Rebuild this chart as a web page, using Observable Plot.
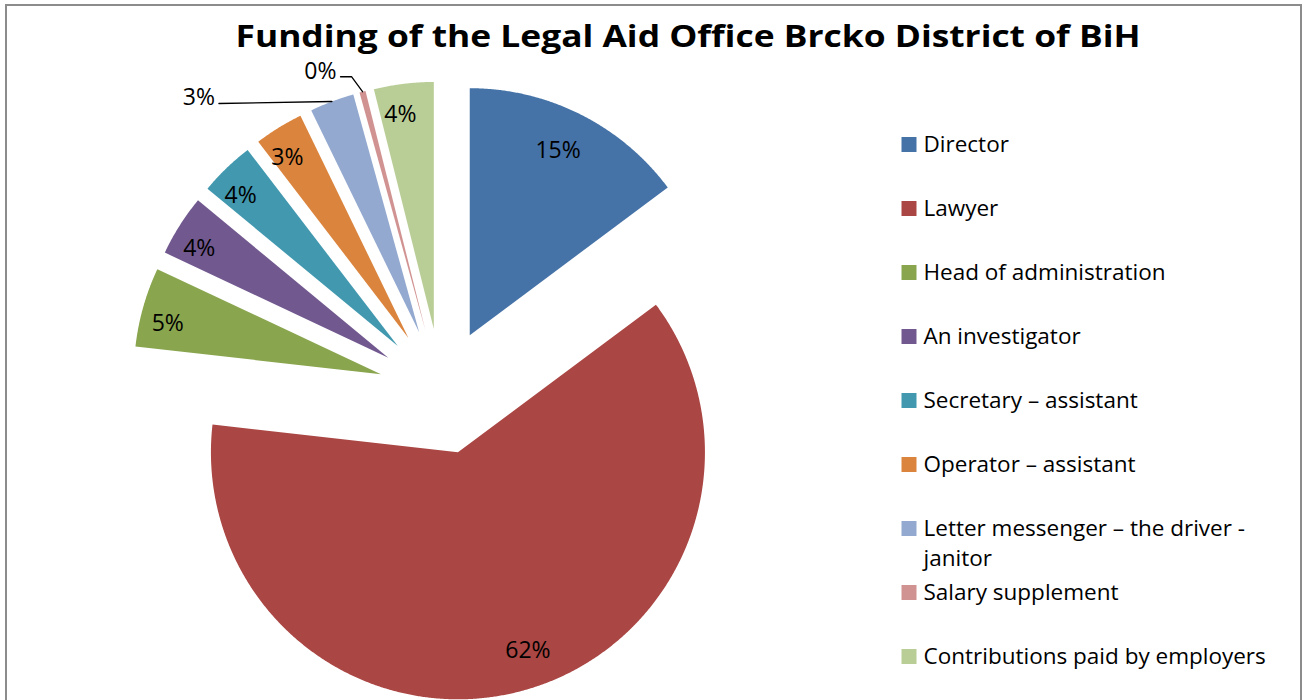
<!DOCTYPE html>
<html>
<head>
<meta charset="utf-8">
<script src="https://cdn.jsdelivr.net/npm/d3@7"></script>
<script src="https://cdn.jsdelivr.net/npm/@observablehq/plot@0.6"></script>
<style>
  html, body { margin: 0; padding: 0; background: #fff; overflow: hidden; }
  #wrap { position: relative; width: 1307px; height: 700px; overflow: hidden; background: #fff; }
  #wrap svg { position: absolute; top: 0; }
</style>
</head>
<body>
<div id="wrap"></div>
<script>
// ---------- data ----------
const title = "Funding of the Legal Aid Office Brcko District of BiH";
const categories = [
  "Director",
  "Lawyer",
  "Head of administration",
  "An investigator",
  "Secretary – assistant",
  "Operator – assistant",
  "Letter messenger – the driver - janitor",
  "Salary supplement",
  "Contributions paid by employers"
];
const shares = [14.8, 62.0, 5.2, 4.0, 3.6, 3.2, 2.9, 0.4, 3.9]; // percent
const colors = ["#4572A7", "#AA4643", "#89A54E", "#71588F", "#4198AF", "#DB843D", "#93A9CF", "#D19392", "#B9CD96"];
// slices whose label sits outside with a leader line
const outsideLabels = ["Letter messenger – the driver - janitor", "Salary supplement"];

// ---------- geometry (style) ----------
const W = 1307, H = 700;
const CX = 441, CY = 391, R = 247;      // pie centre / radius in px
const EXPLODE = 63 / R;                 // explosion in radius units
const FONT = "'Open Sans', 'Noto Sans', sans-serif";
const px = (dx) => dx / R;              // px → data units
const LEG_FS = 22.5, LEG_LH = 30 / 22.5;

const arcs = d3.pie().sort(null).value(d => d)(shares);
const slices = [];
const labels = [];
const leaders = [];
arcs.forEach((a, i) => {
  const name = categories[i];
  const mid = (a.startAngle + a.endAngle) / 2;
  const ox = EXPLODE * Math.sin(mid), oy = EXPLODE * Math.cos(mid);
  slices.push({name, x: ox, y: oy});
  const n = Math.max(2, Math.ceil((a.endAngle - a.startAngle) / 0.005));
  for (let k = 0; k <= n; k++) {
    const t = a.startAngle + (a.endAngle - a.startAngle) * k / n;
    slices.push({name, x: ox + Math.sin(t), y: oy + Math.cos(t)});
  }
  const text = Math.round(shares[i]) + "%";
  if (!outsideLabels.includes(name)) {
    const s = shares[i];
    const rr = s > 10 ? 0.84 : 0.89;
    const la = mid - (s > 50 ? 0.08 : s > 10 ? 0.025 : 0.03);
    labels.push({name, text, x: ox + rr * Math.sin(la), y: oy + rr * Math.cos(la), anchor: "middle"});
  } else {
    const ex = ox + Math.sin(mid), ey = oy + Math.cos(mid);
    const pts = name === "Salary supplement" ? [[0, 0], [-11, -15], [-22, -15]] : [[0, 0], [-113, 2]];
    pts.forEach(([dx, dy]) => leaders.push({name, x: ex + px(dx), y: ey - px(dy)}));
    const [lx, ly] = pts[pts.length - 1];
    const off = name === "Salary supplement" ? [-4, -5] : [-4, -6];
    labels.push({name, text, x: ex + px(lx + off[0]), y: ey - px(ly + off[1]), anchor: "end"});
  }
});

const color = {domain: categories, range: colors};

const pie = Plot.plot({
  width: W, height: H,
  margin: 0,
  x: {domain: [-CX / R, (W - CX) / R], axis: null},
  y: {domain: [(CY - H) / R, CY / R], axis: null},
  color,
  style: {fontFamily: FONT, background: "white", overflow: "visible"},
  marks: [
    Plot.line(slices, {x: "x", y: "y", z: "name", fill: "name", stroke: "none", curve: "linear"}),
    Plot.line(leaders, {x: "x", y: "y", z: "name", stroke: "black", strokeWidth: 1.3}),
    Plot.text(labels.filter(d => d.anchor === "middle"), {x: "x", y: "y", dy: 3, text: "text", fontSize: 23, fill: "black", textAnchor: "middle"}),
    Plot.text(labels.filter(d => d.anchor === "end"), {x: "x", y: "y", text: "text", fontSize: 23, fill: "black", textAnchor: "end"}),
    Plot.text([title], {frameAnchor: "top", dx: 34, dy: 25, lineAnchor: "top", text: d => d, fontSize: 30, fontWeight: "bold", fill: "black"}),
    Plot.frame({stroke: "#8c8c8c", strokeWidth: 2, insetLeft: 5.5, insetTop: 4.5, insetRight: 6.5, insetBottom: -12})
  ]
});
// stretch the title to the reference width
d3.select(pie).selectAll("text").filter(function () { return this.textContent === title; })
  .attr("textLength", 905).attr("lengthAdjust", "spacingAndGlyphs");

const legend = Plot.plot({
  width: 410, height: H,
  margin: 0,
  y: {type: "point", domain: categories, range: [142.5, 656.5], padding: 0, axis: null},
  color,
  style: {fontFamily: FONT, background: "transparent", overflow: "visible"},
  marks: [
    Plot.dot(categories, {y: d => d, fill: d => d, symbol: "square", r: 15 / Math.sqrt(Math.PI), frameAnchor: "left", dx: 13.5, stroke: "none"}),
    Plot.text(categories, {y: d => d, text: d => d, frameAnchor: "left", dx: 28, dy: 7.5 - 0.71 * LEG_LH * LEG_FS, lineAnchor: "top", textAnchor: "start", fontSize: LEG_FS, lineHeight: LEG_LH, lineWidth: 16.5, fill: "black"})
  ]
});

const wrap = document.getElementById("wrap");
wrap.appendChild(pie);
legend.style.left = "895px";
wrap.appendChild(legend);
pie.style.left = "0px";
</script>
</body>
</html>
